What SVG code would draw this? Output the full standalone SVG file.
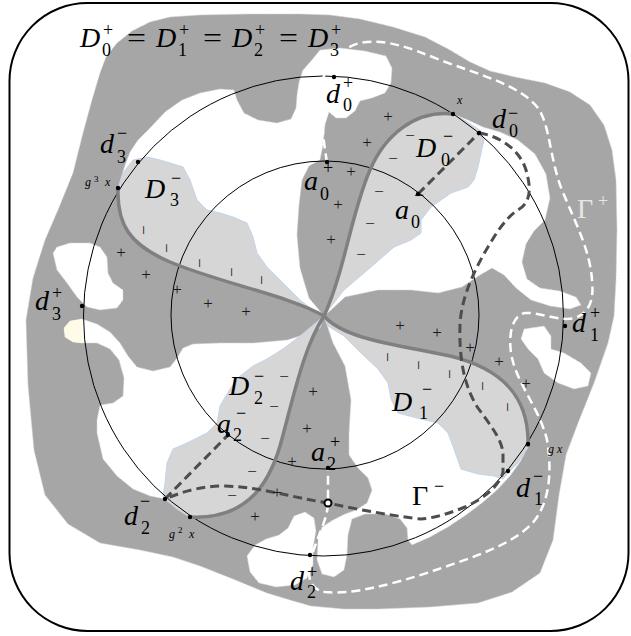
<svg xmlns="http://www.w3.org/2000/svg" width="631" height="636" viewBox="0 0 631 636">
<style>
.lb{font-family:"Liberation Serif","Times New Roman",serif;font-size:28px;font-style:italic;fill:#000}
.up{font-style:normal}
.sb{font-family:"Liberation Serif","Times New Roman",serif;font-size:18px;fill:#000}
.sm{font-family:"Liberation Serif","Times New Roman",serif;font-size:12px;font-style:italic;fill:#000}
.ss{font-family:"Liberation Serif","Times New Roman",serif;font-size:9px;fill:#000}
.mk{font-family:"Liberation Serif","Times New Roman",serif;font-size:17px;text-anchor:middle;fill:#1a1a1a}
.blob{fill:#a6a6a6;stroke:#d4d4d4;stroke-width:1;stroke-dasharray:1.5 1.5;stroke-linejoin:round}
.hole{fill:#fff;stroke:#d4d4d4;stroke-width:1;stroke-dasharray:1.5 1.5;stroke-linejoin:round}
.dm{fill:#d6d6d6;stroke:#c2d4ee;stroke-width:1;stroke-linejoin:round}
.spiral{fill:none;stroke:#808080;stroke-width:3.5}
.circ{fill:none;stroke:#000;stroke-width:1}
.gp{fill:none;stroke:#fff;stroke-width:2.5;stroke-dasharray:9 5}
.gm{fill:none;stroke:#4d4d4d;stroke-width:3;stroke-dasharray:9 5}
.pt{fill:#000}
</style>
<rect id="frame" x="9.5" y="3" width="619" height="628" rx="78" fill="#fff" stroke="#000" stroke-width="2"/>
<g id="regions">
<path id="Dplus" class="blob" d="M100,73 L106,57 L117,43 L132,31 L150,22 L170,17 L200,15 L250,14 L300,14 L330,15 L360,19 L393,27 L425,37 L450,50 L470,62 L490,71 L515,77 L545,83 L570,92 L590,105 L604,125 L612,150 L616,180 L617,230 L616,280 L614,316 L608,343 L594,383 L578,423 L566,455 L559,495 L553,540 L540,573 L512,592 L478,603 L430,607 L378,609 L344,609 L311,606 L290,600 L267,593 L233,579 L200,566 L173,557 L140,550 L100,543 L68,524 L45,495 L34,450 L28,385 L26,320 L33,278 L45,240 L58,210 L73,173 L83,133 L92,100 Z"/>
<path id="W1" class="hole" d="M118,189 L121,178 L125,165 L130,152 L138,140 L150,128 L165,112 L182,100 L200,93 L220,89 L234,90 L237,100 L244,113 L258,120 L277,123 L291,119 L296,108 L297,95 L299,82 L303,70 L311,61 L320,50 L340,48 L365,51 L386,56 L392,68 L391,83 L385,93 L372,98 L360,101 L355,111 L346,118 L336,118 L329,112 L325,125 L323,145 L320,160 L309,166 L302,180 L299,205 L297,235 L300,268 L309,298 L324,316 C290,296 220,283 170,262 C130,245 117,225 118,189 Z"/>
<path id="W2" class="hole" d="M324,316 C345,270 352,210 370,170 C385,135 415,110 453,114 L468,120 L483,127 L500,132 L518,140 L535,154 L546,174 L550,198 L545,220 L534,231 L526,244 L522,262 L527,279 L540,288 L560,291 L576,297 L581,305 L570,309 L550,306 L531,300 L516,288 L504,275 L492,268 L480,275 L462,287 L438,293 L411,290 L378,290 L345,297 L331,310 Z"/>
<path id="W3" class="hole" d="M324,316 C345,340 400,345 450,356 C500,368 530,395 528,447 L520,462 L510,476 L497,490 L482,503 L466,515 L448,527 L430,537 L412,545 L408,540 L407,528 L400,519 L385,514 L365,514 L352,519 L348,535 L347,555 L344,570 L334,577 L322,574 L317,560 L318,540 L322,527 L333,520 L345,514 L356,510 L367,503 L372,490 L368,478 L358,468 L349,455 L349,433 L351,400 L345,366 L333,343 Z"/>
<path id="W4" class="hole" d="M324,316 L320,328 L300,336 L287,340 L253,343 L220,343 L193,344 L183,348 L177,358 L170,367 L153,371 L137,367 L128,356 L120,343 L110,332 L97,324 L82,319 L70,321 L64,328 L65,337 L73,342 L82,343 L97,343 L110,349 L119,360 L124,378 L123,396 L113,403 L100,405 L97,420 L97,433 L103,459 L117,476 L133,489 L150,496 L165,499 L177,509 L190,517 C250,520 272,480 283,435 C295,390 305,345 324,316 Z"/>
<path id="cream" d="M82,319 L70,321 L64,328 L65,337 L73,342 L82,343 Z" fill="#fffbe6"/>
<path id="WL1" class="hole" d="M53,253 L57,247 L70,243 L90,243 L100,247 L107,257 L108,273 L113,283 L123,290 L123,300 L117,308 L100,310 L87,307 L77,297 L67,283 L57,270 Z"/>
<path id="W6" class="hole" d="M255,545 L247,556 L250,572 L259,583 L276,587 L295,585 L307,578 L313,565 L313,548 L316,531 L314,518 L305,512 L294,516 L288,528 L279,535 L266,539 Z"/>
<path id="R1" class="hole" d="M524,329 L544,326 L551,336 L551,349 L564,353 L581,363 L591,373 L588,386 L574,389 L558,383 L544,373 L538,359 L528,349 L521,339 Z"/>
<path id="D0m" class="dm" d="M324,316 C345,270 352,210 370,170 C385,135 415,110 453,114 L461,118 L472,125 L481,131 L484,140 L481,153 L478,167 L474,180 L468,187 L451,193 L431,207 L421,220 L421,233 L411,240 L394,247 L371,267 L344,290 L330,308 Z"/>
<path id="D3m" class="dm" d="M118,189 L123,173 L133,160 L147,157 L160,160 L170,163 L183,167 L190,180 L197,200 L207,210 L220,213 L233,217 L247,223 L253,237 L257,253 L267,267 L283,283 L300,300 L313,310 L324,316 C290,296 220,283 170,262 C130,245 117,225 118,189 Z"/>
<path id="D1m" class="dm" d="M324,316 C345,340 400,345 450,356 C500,368 530,395 528,447 L518,463 L508,473 L503,479 L494,476 L478,474 L461,469 L454,449 L448,433 L438,423 L421,419 L398,413 L391,399 L388,383 L378,369 L361,353 L344,336 L328,326 Z"/>
<path id="D2m" class="dm" d="M324,316 C305,345 295,390 283,435 C272,480 250,520 190,517 L177,509 L165,499 L163,496 L165,483 L167,463 L173,449 L187,443 L207,433 L217,423 L220,406 L230,389 L240,376 L253,366 L267,359 L283,349 L300,336 Z"/>
</g>
<g id="circles">
<circle class="circ" cx="323.5" cy="316" r="240"/>
<circle class="circ" cx="325" cy="315" r="154"/>
</g>
<g id="spirals">
<path class="spiral" d="M324,316 C345,270 352,210 370,170 C385,135 415,110 453,114"/>
<path class="spiral" d="M324,316 C290,296 220,283 170,262 C130,245 117,225 118,189"/>
<path class="spiral" d="M324,316 C345,340 400,345 450,356 C500,368 530,395 528,447"/>
<path class="spiral" d="M324,316 C305,345 295,390 283,435 C272,480 250,520 190,517"/>
</g>
<g id="connectors">
<path id="GammaPlus" class="gp" d="M327,162 C323,140 320,110 322,85 C324,65 340,48 360,43 C385,38 410,48 440,60 C480,75 520,85 538,108 C550,125 550,160 562,190 C575,222 590,250 592,280 C594,300 590,312 575,318 C560,322 540,312 525,313 C510,316 508,340 512,358 C518,385 540,410 547,440 C552,470 550,500 535,520 C515,545 470,558 430,572 C390,585 350,595 325,592 C305,588 308,570 312,555 C318,535 327,520 328,504 L328,468"/>
<path id="GammaMinus" class="gm" d="M479,133 C500,136 520,150 526,170 C532,190 530,203 518,210 C505,218 495,235 485,252 C472,275 461,300 460,325 C459,355 463,385 478,408 C490,425 503,440 503,455 L503,472 C500,485 485,498 465,507 C450,513 435,518 421,519 C400,517 360,510 328,503 C290,497 260,487 225,486 C195,486 175,495 165,499"/>
<path class="gm" d="M418,194 L479,133"/>
<path class="gm" d="M165,499 L228,435"/>
</g>
<g id="marks">
<text class="mk" x="388" y="122">+</text><text class="mk" x="367" y="148">+</text><text class="mk" x="351" y="177">+</text><text class="mk" x="338" y="210">+</text><text class="mk" x="331" y="245">+</text>
<text class="mk" x="121" y="258">+</text><text class="mk" x="146" y="280">+</text><text class="mk" x="177" y="295">+</text><text class="mk" x="208" y="309">+</text><text class="mk" x="246" y="317">+</text>
<text class="mk" x="400" y="331">+</text><text class="mk" x="437" y="338">+</text><text class="mk" x="470" y="353">+</text><text class="mk" x="499" y="367">+</text><text class="mk" x="526" y="389">+</text>
<text class="mk" x="313" y="397">+</text><text class="mk" x="307" y="434">+</text><text class="mk" x="292" y="467">+</text><text class="mk" x="277" y="498">+</text><text class="mk" x="255" y="522">+</text>
<text class="mk" x="410" y="141">−</text><text class="mk" x="393" y="164">−</text><text class="mk" x="379" y="197">−</text><text class="mk" x="370" y="229">−</text><text class="mk" x="361" y="260">−</text>
<text class="mk" x="284" y="382">−</text><text class="mk" x="274" y="412">−</text><text class="mk" x="265" y="444">−</text><text class="mk" x="252" y="477">−</text><text class="mk" x="232" y="501">−</text>
<text class="mk" x="142" y="234" transform="rotate(90 142 230)">−</text><text class="mk" x="165" y="252" transform="rotate(90 165 248)">−</text><text class="mk" x="198" y="267" transform="rotate(90 198 263)">−</text><text class="mk" x="230" y="276" transform="rotate(90 230 272)">−</text><text class="mk" x="260" y="284" transform="rotate(90 260 280)">−</text>
<text class="mk" x="386" y="361" transform="rotate(90 386 357)">−</text><text class="mk" x="417" y="369" transform="rotate(90 417 365)">−</text><text class="mk" x="448" y="378" transform="rotate(90 448 374)">−</text><text class="mk" x="481" y="390" transform="rotate(90 481 386)">−</text><text class="mk" x="506" y="411" transform="rotate(90 506 407)">−</text>
</g>
<g id="points">
<circle class="pt" cx="334" cy="77" r="2.2"/><circle class="pt" cx="453" cy="114" r="2.2"/><circle class="pt" cx="479" cy="133" r="2.2"/><circle class="pt" cx="327" cy="162" r="2.2"/><circle class="pt" cx="418" cy="194" r="2.2" fill="#444"/><circle class="pt" cx="138" cy="162" r="2.2"/><circle class="pt" cx="118" cy="188" r="2.2"/><circle class="pt" cx="82" cy="306" r="2.2"/><circle class="pt" cx="565" cy="326" r="2.2"/><circle class="pt" cx="528" cy="444" r="2.2"/><circle class="pt" cx="508" cy="471" r="2.2"/><circle class="pt" cx="328" cy="468" r="2.2"/><circle class="pt" cx="228" cy="435" r="2.2"/><circle class="pt" cx="165" cy="499" r="2.2"/><circle class="pt" cx="190" cy="517" r="2.2"/><circle class="pt" cx="310" cy="555" r="2.2"/>
<circle cx="328" cy="503" r="3.5" fill="#fff" stroke="#000" stroke-width="2"/>
</g>
<g id="labels">
<text class="lb" x="80" y="47">D</text><text class="sb" x="102" y="56">0</text><text class="sb" x="103" y="36">+</text><text class="lb up" x="127" y="47" textLength="19" lengthAdjust="spacingAndGlyphs">=</text>
<text class="lb" x="156" y="47">D</text><text class="sb" x="178" y="56">1</text><text class="sb" x="179" y="36">+</text><text class="lb up" x="203" y="47" textLength="19" lengthAdjust="spacingAndGlyphs">=</text>
<text class="lb" x="232" y="47">D</text><text class="sb" x="254" y="56">2</text><text class="sb" x="255" y="36">+</text><text class="lb up" x="279" y="47" textLength="19" lengthAdjust="spacingAndGlyphs">=</text>
<text class="lb" x="308" y="47">D</text><text class="sb" x="330" y="56">3</text><text class="sb" x="331" y="36">+</text>
<text class="lb" x="326" y="103">d</text><text class="sb" x="343" y="111">0</text><text class="sb" x="343" y="88.5">+</text>
<text class="lb" x="492" y="128">d</text><text class="sb" x="509" y="137">0</text><text class="sb" x="508" y="118.5">−</text>
<text class="lb" x="304" y="190">a</text><text class="sb" x="320" y="200">0</text><text class="sb" x="323" y="174">+</text>
<text class="lb" x="395" y="219">a</text><text class="sb" x="411" y="228">0</text><text class="sb" x="414" y="201">−</text>
<text class="lb" x="100" y="153">d</text><text class="sb" x="117" y="163">3</text><text class="sb" x="117" y="139">−</text>
<text class="sm" x="85" y="186">g</text><text class="ss" x="94" y="182">3</text><text class="sm" x="105" y="186">x</text>
<text class="lb" x="35" y="310">d</text><text class="sb" x="52" y="320">3</text><text class="sb" x="52" y="299">+</text>
<text class="lb" x="572" y="332">d</text><text class="sb" x="590" y="341">1</text><text class="sb" x="590" y="319">+</text>
<text class="sm" x="457" y="104">x</text>
<text class="sm" x="548" y="453">g</text><text class="sm" x="557" y="453">x</text>
<text class="lb" x="516" y="497">d</text><text class="sb" x="534" y="505">1</text><text class="sb" x="533" y="482">−</text>
<text class="lb" x="311" y="461">a</text><text class="sb" x="327" y="470">2</text><text class="sb" x="330" y="448">+</text>
<text class="lb" x="217" y="433">a</text><text class="sb" x="233" y="441">2</text><text class="sb" x="236" y="419">−</text>
<text class="lb" x="124" y="525">d</text><text class="sb" x="141" y="534">2</text><text class="sb" x="140" y="507">−</text>
<text class="sm" x="169" y="538">g</text><text class="ss" x="178" y="533">2</text><text class="sm" x="189" y="538">x</text>
<text class="lb" x="290" y="590">d</text><text class="sb" x="307" y="598">2</text><text class="sb" x="307" y="578">+</text>
<text class="lb" x="416" y="157">D</text><text class="sb" x="441" y="166">0</text><text class="sb" x="443" y="142">−</text>
<text class="lb" x="145" y="198">D</text><text class="sb" x="170" y="206">3</text><text class="sb" x="171" y="184">−</text>
<text class="lb" x="392" y="411">D</text><text class="sb" x="419" y="419">1</text><text class="sb" x="422" y="395">−</text>
<text class="lb" x="229" y="395">D</text><text class="sb" x="254" y="404">2</text><text class="sb" x="254" y="382">−</text>
<text class="lb up" x="577" y="218" style="fill:#e6e6e6">Γ</text><text class="sb" x="598" y="207" style="fill:#e6e6e6">+</text>
<text class="lb up" x="412" y="505">Γ</text><text class="sb" x="434" y="492">−</text>
</g>
</svg>
